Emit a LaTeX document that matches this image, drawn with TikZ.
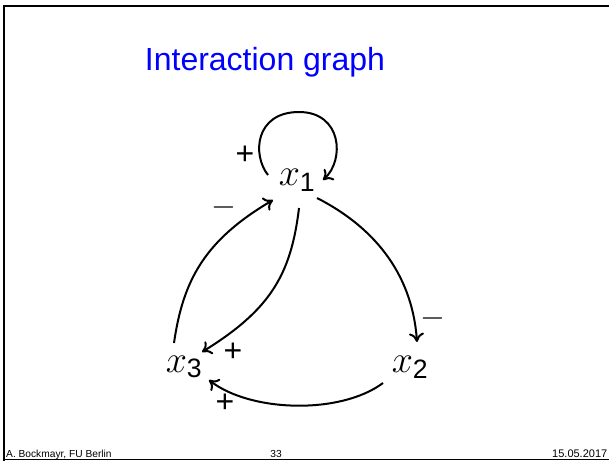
\RequirePackage{fix-cm}
\documentclass[tikz,border=0pt]{standalone}
\usepackage{fontspec}
\setmainfont{Liberation Sans}
\setsansfont{Liberation Sans}
\usetikzlibrary{calc,arrows.meta}
\begin{document}
\begin{tikzpicture}[x=1pt,y=-1pt,
  var/.style={inner sep=0pt, font=\fontsize{38}{42}\selectfont},
  sgn/.style={inner sep=0pt, font=\fontsize{32}{36}\selectfont},
  edge/.style={-{Computer Modern Rightarrow[length=9pt,width=15pt]}, line width=2pt},
  foot/.style={inner sep=0pt, font=\fontsize{10.2}{12}\selectfont}]
\useasboundingbox (0,0) rectangle (609,461);
\draw[line width=2pt] (4,461) -- (4,5.5) -- (609,5.5);
\draw[line width=1.5pt] (4,459.5) -- (609,459.5);
\node[inner sep=0pt, text=blue, font=\fontsize{32}{40}\selectfont] (title) at (265,62) {Interaction graph};
\node[var] (x1) at (297,180) {$x_{\mathsf{1}}$};
\node[var] (x3) at (184,367) {$x_{\mathsf{3}}$};
\node[var] (x2) at (410,367) {$x_{\mathsf{2}}$};
% self loop
\draw[edge] ($(x1)+(-29,-5)$) .. controls ($(x1)+(-45,-25)$) and ($(x1)+(-42,-68)$) .. ($(x1)+(2,-68)$)
  .. controls ($(x1)+(45,-68)$) and ($(x1)+(48,-20)$) .. ($(x1)+(26,0)$);
% x3 -> x1
\draw[edge] ($(x3)+(-10,-24)$) .. controls ($(x3)+(-1,-87)$) and ($(x1)+(-92,60)$) .. ($(x1)+(-24,20)$);
% x1 -> x3
\draw[edge] ($(x1)+(2,28)$) .. controls ($(x1)+(-6,95)$) and ($(x3)+(86,-57)$) .. ($(x3)+(18,-15)$);
% x1 -> x2
\draw[edge] ($(x1)+(20,18)$) .. controls ($(x1)+(73,45)$) and ($(x2)+(2,-97)$) .. ($(x2)+(7,-25)$);
% x2 -> x3
\draw[edge] ($(x2)+(-27,16)$) .. controls ($(x2)+(-70,48)$) and ($(x3)+(66,45)$) .. ($(x3)+(25,13)$);
\node[sgn] (p1) at (245,155) {+};
\node[sgn] (m1) at (224,207) {$-$};
\node[sgn] (p2) at (233,352) {+};
\node[sgn] (m2) at (433,318) {$-$};
\node[sgn] (p3) at (225,403) {+};
\node[foot, anchor=base west] (fl) at (6,457) {A. Bockmayr, FU Berlin};
\node[foot, anchor=base] (fc) at (276,457) {33};
\node[foot, anchor=base west, font=\fontsize{11}{12}\selectfont] (fr) at (552,457) {15.05.2017};
\end{tikzpicture}
\end{document}
